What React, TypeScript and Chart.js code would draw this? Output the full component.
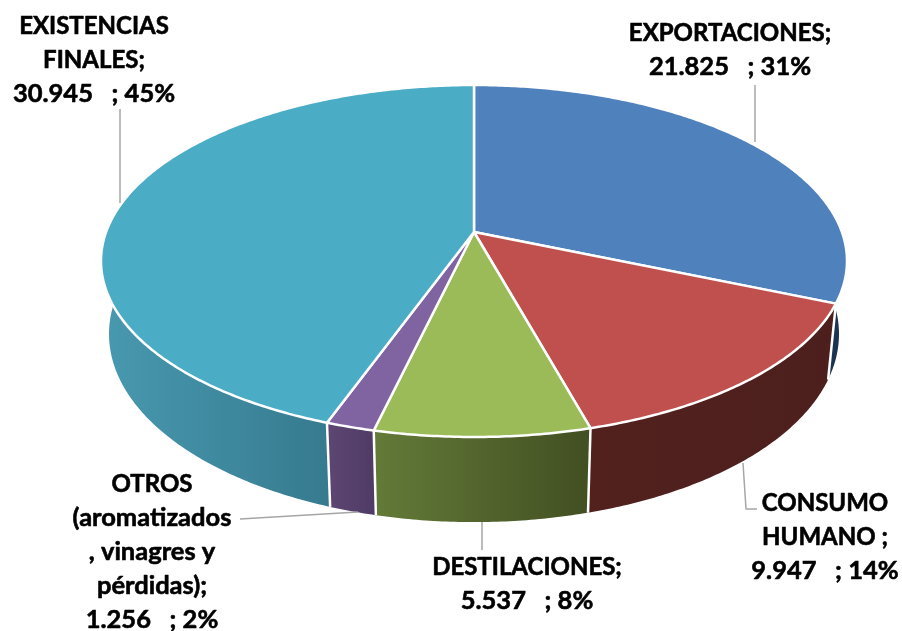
import React, { useEffect, useRef } from "react";
import { Chart, registerables } from "chart.js";

Chart.register(...registerables);

const categories = ["EXPORTACIONES", "CONSUMO HUMANO", "DESTILACIONES", "OTROS", "EXISTENCIAS FINALES"];
const values = [21825, 9947, 5537, 1256, 30945];
const topColors = ["#4f81bd", "#c0504d", "#9bbb59", "#8064a2", "#4bacc6"];
const wallLeft = ["#1d3a5c", "#52211e", "#637a38", "#5e4672", "#4899b0"];
const wallRight = ["#1a3352", "#4c1f1d", "#424f22", "#4f3a66", "#367a8e"];
const labelLines = [
  ["EXPORTACIONES;", "21.825   ; 31%"],
  ["CONSUMO", "HUMANO ;", "9.947   ; 14%"],
  ["DESTILACIONES;", "5.537   ; 8%"],
  ["OTROS", "(aromatizados", ", vinagres y", "pérdidas);", "1.256   ; 2%"],
  ["EXISTENCIAS", "FINALES;", "30.945   ; 45%"],
];
const labelAnchors = [
  [730, 33],
  [825, 503],
  [527, 567],
  [152, 484],
  [94, 26],
];
const leaders = [
  [[755, 142], [755, 85]],
  [[743, 463], [746, 509], [757, 509]],
  [[482, 522], [482, 550]],
  [[358, 512], [240, 519]],
  [[120, 203], [120, 109]],
];

const K = 0.1648;
const TOP = { cx: 474, cy: 232, a: 367.9, b: 171.2 };
const BOTTOM = { cx: 474, cy: 303, a: 360, b: 183 };
const LINE_H = 34;

type Face = typeof TOP;
function project(f: Face, clock: number) {
  const X = Math.sin(clock);
  const Y = -Math.cos(clock);
  const w = 1 - K * Y;
  return [f.cx + (f.a * X) / w, f.cy + (f.b * Y) / w];
}

function arcPoints(f: Face, from: number, to: number) {
  const n = Math.max(4, Math.ceil(Math.abs(to - from) / 0.01));
  const pts: number[][] = [];
  for (let i = 0; i <= n; i++) pts.push(project(f, from + ((to - from) * i) / n));
  return pts;
}

const pie3d = {
  id: "pie3d",
  beforeDatasetDraw(chart: any) {
    const ctx: CanvasRenderingContext2D = chart.ctx;
    const arcs = chart.getDatasetMeta(0).data;
    const spans = arcs.map((a: any) => [a.startAngle + Math.PI / 2, a.endAngle + Math.PI / 2]);
    ctx.save();
    ctx.lineJoin = "round";
    // side walls, back ones first
    [0, 4, 3, 1, 2].forEach((i) => {
      const [s, e] = spans[i];
      const top = arcPoints(TOP, s, e);
      const bottom = arcPoints(BOTTOM, s, e).reverse();
      const all = top.concat(bottom);
      const xs = all.map((p) => p[0]);
      const x0 = Math.min(...xs);
      const x1 = Math.max(...xs);
      const g = ctx.createLinearGradient(x0, 0, i === 4 ? 331 : x1, 0);
      g.addColorStop(0, wallLeft[i]);
      g.addColorStop(1, wallRight[i]);
      ctx.fillStyle = g;
      ctx.beginPath();
      all.forEach((p, j) => (j ? ctx.lineTo(p[0], p[1]) : ctx.moveTo(p[0], p[1])));
      ctx.closePath();
      ctx.fill();
    });
    // white separators on the visible wall
    ctx.strokeStyle = "#ffffff";
    ctx.lineWidth = 2.5;
    spans.forEach(([s]: number[]) => {
      if (s > Math.PI / 2 && s < (3 * Math.PI) / 2) {
        const a = project(TOP, s);
        const b = project(BOTTOM, s);
        ctx.beginPath();
        ctx.moveTo(a[0], a[1]);
        ctx.lineTo(b[0], b[1]);
        ctx.stroke();
      }
    });
    arcs.forEach((a: any, i: number) => {
      const [s, e] = spans[i];
      ctx.fillStyle = a.options.backgroundColor;
      ctx.beginPath();
      ctx.moveTo(TOP.cx, TOP.cy);
      arcPoints(TOP, s, e).forEach((p) => ctx.lineTo(p[0], p[1]));
      ctx.closePath();
      ctx.fill();
      ctx.stroke();
    });
    // leader lines
    ctx.strokeStyle = "#a6a6a6";
    ctx.lineWidth = 1.5;
    leaders.forEach((pts) => {
      ctx.beginPath();
      pts.forEach((p, j) => (j ? ctx.lineTo(p[0], p[1]) : ctx.moveTo(p[0], p[1])));
      ctx.stroke();
    });
    // labels: Calibri's capitals run narrower than Lato's, so lines with lower case or digits are larger
    ctx.fillStyle = "#000000";
    ctx.strokeStyle = "#000000";
    ctx.lineWidth = 0.6;
    ctx.textAlign = "center";
    ctx.textBaseline = "middle";
    labelLines.forEach((lines, i) => {
      lines.forEach((t, j) => {
        ctx.font = /[a-z0-9]/.test(t) ? "bold 25.5px Lato" : "bold 24px Lato";
        const x = labelAnchors[i][0];
        const y = labelAnchors[i][1] + j * LINE_H;
        ctx.fillText(t, x, y);
        ctx.strokeText(t, x, y);
      });
    });
    ctx.restore();
    return false;
  },
};

export default function App() {
  const ref = useRef<HTMLCanvasElement>(null);
  useEffect(() => {
    document.body.style.margin = "0";
    const chart = new Chart(ref.current!, {
      type: "pie",
      data: {
        labels: categories,
        datasets: [{ data: values, backgroundColor: topColors, borderWidth: 0 }],
      },
      options: {
        animation: false,
        responsive: false,
        plugins: { legend: { display: false }, tooltip: { enabled: false } },
      },
      plugins: [pie3d],
    } as any);
    return () => chart.destroy();
  }, []);
  return <canvas ref={ref} width={902} height={631} style={{ display: "block" }} />;
}
